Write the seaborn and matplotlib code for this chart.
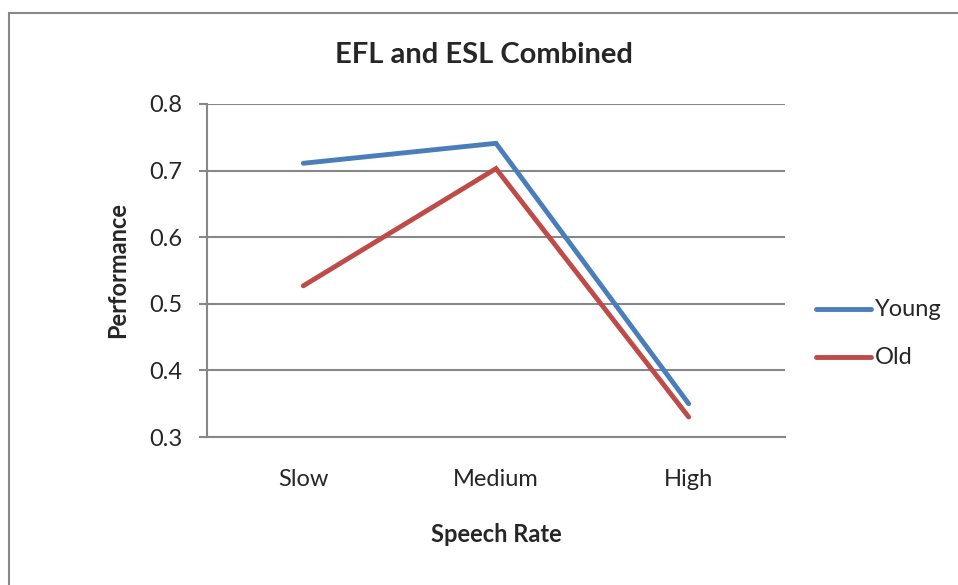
import pandas as pd
import matplotlib.pyplot as plt
import matplotlib.patches as patches
import seaborn as sns

# Data
rates = ['Slow', 'Medium', 'High']
young = [0.711, 0.741, 0.350]
old = [0.527, 0.703, 0.330]
groups = ['Young', 'Old']
palette = {'Young': '#4A7EBB', 'Old': '#BE4B48'}

df = pd.DataFrame({
    'Speech Rate': rates * 2,
    'Performance': young + old,
    'Group': ['Young'] * 3 + ['Old'] * 3,
})
df['pos'] = df['Speech Rate'].map({r: i for i, r in enumerate(rates)})

sns.set_style('white')
plt.rcParams['font.family'] = ['Lato', 'DejaVu Sans']

fig = plt.figure(figsize=(9.58, 5.85), dpi=100)
ax = fig.add_axes([207 / 958, 1 - 437 / 585, 578 / 958, 333 / 585])

sns.lineplot(data=df, x='pos', y='Performance', hue='Group', hue_order=groups,
             palette=palette, linewidth=3.5, sort=False, ax=ax, legend=False)
for ln in ax.lines:
    ln.set_solid_capstyle('round')
    ln.set_solid_joinstyle('miter')

ax.set_xlim(-0.5, 2.5)
ax.set_ylim(0.3, 0.8)
ax.set_yticks([0.3, 0.4, 0.5, 0.6, 0.7, 0.8])
ax.set_yticklabels(['0.3', '0.4', '0.5', '0.6', '0.7', '0.8'], fontsize=17)
ax.set_xticks([0, 1, 2])
ax.set_xticklabels(rates, fontsize=17)
ax.set_xticks([-0.5, 0.5, 1.5, 2.5], minor=True)
ax.tick_params(axis='x', which='major', length=0, pad=23)
ax.tick_params(axis='x', which='minor', length=6, width=1.5, color='#878787', direction='out')
ax.tick_params(axis='y', length=6, width=1.5, color='#878787', direction='out', left=True, pad=12)
ax.yaxis.grid(True, color='#878787', linewidth=1.5)
ax.set_axisbelow(True)
for side in ['top', 'right']:
    ax.spines[side].set_visible(False)
for side in ['left', 'bottom']:
    ax.spines[side].set_color('#878787')
    ax.spines[side].set_linewidth(1.5)

ax.set_xlabel('Speech Rate', fontsize=17, fontweight='bold', labelpad=24)
ax.set_ylabel('Performance', fontsize=17, fontweight='bold', labelpad=14)

fig.text(484 / 958, 1 - 55 / 585, 'EFL and ESL Combined', ha='center', va='center',
         fontsize=21, fontweight='bold')

# Legend drawn by hand to match the Excel layout
for i, g in enumerate(groups):
    y = 1 - (309 + 48 * i) / 585
    fig.add_artist(plt.Line2D([816 / 958, 871 / 958], [y, y], color=palette[g],
                              linewidth=3.5, solid_capstyle='round'))
    fig.text(875 / 958, y, g, ha='left', va='center', fontsize=17)

# Outer chart border
fig.add_artist(patches.Rectangle((9 / 958, -0.05), 1.05, 1 - 13 / 585 + 0.05,
                                 transform=fig.transFigure, fill=False,
                                 edgecolor='#878787', linewidth=1.5))

fig.savefig('out.png', dpi=100)
